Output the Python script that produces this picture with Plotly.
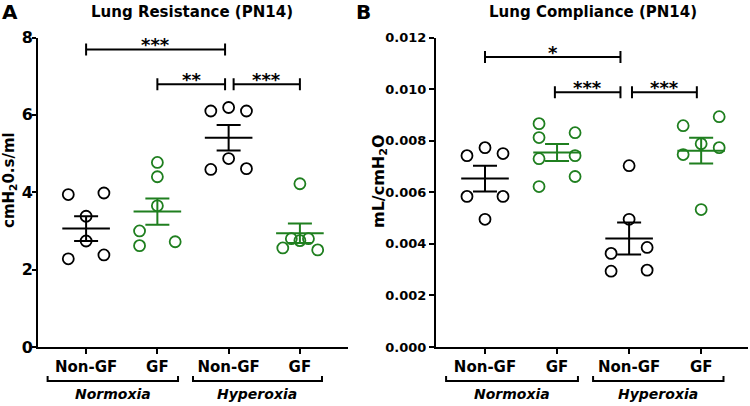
import plotly.graph_objects as go

# ---------------- data ----------------
categories = ["Non-GF", "GF", "Non-GF", "GF"]
groups = ["Normoxia", "Hyperoxia"]

# Panel A: Lung Resistance (cmH2O.s/ml)
res_nongf_norm = [3.94, 3.98, 3.38, 2.28, 2.74, 2.38]
res_gf_norm = [4.77, 4.40, 3.65, 3.00, 2.62, 2.72]
res_nongf_hyp = [6.10, 6.19, 6.10, 4.59, 4.87, 4.61]
res_gf_hyp = [4.22, 2.56, 2.80, 2.75, 2.80, 2.51]
res_mean = [3.06, 3.50, 5.41, 2.94]
res_sem = [0.32, 0.34, 0.33, 0.25]

# Panel B: Lung Compliance (mL/cmH2O)
comp_nongf_norm = [0.00742, 0.00773, 0.00750, 0.00584, 0.00584, 0.00495]
comp_gf_norm = [0.00866, 0.00812, 0.00831, 0.00730, 0.00742, 0.00661, 0.00622]
comp_nongf_hyp = [0.00703, 0.00495, 0.00363, 0.00386, 0.00294, 0.00298]
comp_gf_hyp = [0.00858, 0.00893, 0.00788, 0.00746, 0.00773, 0.00533]
comp_mean = [0.00653, 0.00754, 0.00421, 0.00761]
comp_sem = [0.00050, 0.00033, 0.00062, 0.00050]

# significance labels
res_sig = ["***", "**", "***"]
comp_sig = ["*", "***", "***"]
res_sig_y = [7.69, 6.79, 6.79]
comp_sig_y = [0.01124, 0.00988, 0.00988]

# ---------------- layout helpers (positions / styles) ----------------
jit_res = [
    [-0.25, 0.25, 0.0, -0.25, 0.0, 0.25],
    [0.0, 0.0, 0.0, -0.25, -0.25, 0.25],
    [-0.25, 0.0, 0.25, -0.25, 0.0, 0.25],
    [0.0, -0.24, -0.12, 0.0, 0.12, 0.25],
]
jit_comp = [
    [-0.25, 0.0, 0.25, -0.25, 0.25, 0.0],
    [-0.25, -0.25, 0.25, -0.25, 0.25, 0.25, -0.25],
    [0.0, 0.0, -0.25, 0.25, -0.25, 0.25],
    [-0.25, 0.25, 0.0, -0.25, 0.25, 0.0],
]
res_sig_x = [(0.0, 1.95), (1.0, 1.95), (2.07, 3.0)]
comp_sig_x = [(0.0, 1.88), (0.97, 1.88), (2.04, 2.94)]
group_x = [(-0.54, 1.29), (1.5, 3.31)]

BLACK = "#000000"
GREEN = "#1f7f1f"
colors = [BLACK, GREEN, BLACK, GREEN]
FONT = "DejaVu Sans"

W, H = 750, 406


def py(p):
    return 1 - p / H


fig = go.Figure()

panels = [
    ("x", "y", [res_nongf_norm, res_gf_norm, res_nongf_hyp, res_gf_hyp], jit_res, res_mean, res_sem),
    ("x2", "y2", [comp_nongf_norm, comp_gf_norm, comp_nongf_hyp, comp_gf_hyp], jit_comp, comp_mean, comp_sem),
]

for xa, ya, series, jits, means, sems in panels:
    for i, (vals, jit) in enumerate(zip(series, jits)):
        fig.add_trace(go.Scatter(
            x=[i + j for j in jit], y=vals, mode="markers", xaxis=xa, yaxis=ya,
            marker=dict(symbol="circle-open", size=11, color=colors[i],
                        line=dict(width=1.8, color=colors[i])),
            showlegend=False, hoverinfo="skip",
        ))
    for i in range(4):
        fig.add_trace(go.Scatter(
            x=[i], y=[means[i]], mode="markers", xaxis=xa, yaxis=ya,
            marker=dict(symbol="line-ew", size=34, color=colors[i],
                        line=dict(width=2, color=colors[i])),
            error_y=dict(type="data", array=[sems[i]], visible=True,
                         color=colors[i], thickness=2, width=12),
            showlegend=False, hoverinfo="skip",
        ))

shapes = []
annotations = []

# significance brackets
for xr, yr, sig, sx, sy in [("x", "y", res_sig, res_sig_x, res_sig_y),
                            ("x2", "y2", comp_sig, comp_sig_x, comp_sig_y)]:
    for lab, (x0, x1), yv in zip(sig, sx, sy):
        shapes.append(dict(type="line", xref=xr, yref=yr, x0=x0, x1=x1, y0=yv, y1=yv,
                           line=dict(color=BLACK, width=2)))
        for xe in (x0, x1):
            shapes.append(dict(type="line", xref=xr, yref=yr, ysizemode="pixel", yanchor=yv,
                               x0=xe, x1=xe, y0=-6, y1=6, line=dict(color=BLACK, width=2)))
        annotations.append(dict(xref=xr, yref=yr, x=(x0 + x1) / 2, y=yv, text=lab,
                                showarrow=False, yanchor="middle", xanchor="center", yshift=5,
                                font=dict(family=FONT, size=18, color=BLACK, weight="bold")))

# group brackets under x-axis
for xr in ("x", "x2"):
    for (x0, x1), g in zip(group_x, groups):
        shapes.append(dict(type="path", xref=xr, yref="paper",
                           path=f"M {x0},{py(376)} L {x0},{py(381)} L {x1},{py(381)} L {x1},{py(376)}",
                           line=dict(color=BLACK, width=2)))
        annotations.append(dict(xref=xr, yref="paper", x=(x0 + x1) / 2, y=py(394), text=f"<i>{g}</i>",
                                showarrow=False, yanchor="middle", xanchor="center",
                                font=dict(family=FONT, size=14, color=BLACK, weight="bold")))

# titles, panel letters, axis titles
annotations += [
    dict(xref="paper", yref="paper", x=192 / W, y=py(12), text="Lung Resistance (PN14)",
         showarrow=False, yanchor="middle", xanchor="center",
         font=dict(family=FONT, size=15, color=BLACK, weight="bold")),
    dict(xref="paper", yref="paper", x=593 / W, y=py(12), text="Lung Compliance (PN14)",
         showarrow=False, yanchor="middle", xanchor="center",
         font=dict(family=FONT, size=15, color=BLACK, weight="bold")),
    dict(xref="paper", yref="paper", x=10 / W, y=py(12), text="A",
         showarrow=False, yanchor="middle", xanchor="center",
         font=dict(family=FONT, size=20, color=BLACK, weight="bold")),
    dict(xref="paper", yref="paper", x=363 / W, y=py(12), text="B",
         showarrow=False, yanchor="middle", xanchor="center",
         font=dict(family=FONT, size=20, color=BLACK, weight="bold")),
    dict(xref="paper", yref="paper", x=9 / W, y=py(180), text="cmH<sub>2</sub>0.s/ml", textangle=-90,
         showarrow=False, yanchor="middle", xanchor="center",
         font=dict(family=FONT, size=15, color=BLACK, weight="bold")),
    dict(xref="paper", yref="paper", x=380 / W, y=py(181), text="mL/cmH<sub>2</sub>O", textangle=-90,
         showarrow=False, yanchor="middle", xanchor="center",
         font=dict(family=FONT, size=16, color=BLACK, weight="bold")),
]

common_x = dict(tickmode="array", tickvals=[0, 1, 2, 3], ticktext=categories,
                showline=True, linewidth=2, linecolor=BLACK, ticks="outside", ticklen=5,
                tickwidth=2, tickcolor=BLACK, showgrid=False, zeroline=False, automargin=False,
                tickfont=dict(family=FONT, size=15, color=BLACK, weight="bold"))
common_y = dict(showline=True, linewidth=2, linecolor=BLACK, ticks="outside",
                tickwidth=2, tickcolor=BLACK, showgrid=False, zeroline=False, automargin=False)

ydom = [py(347), py(37.5)]
fig.update_layout(
    width=W, height=H, margin=dict(l=0, r=0, t=0, b=0, pad=0), autosize=False,
    paper_bgcolor="white", plot_bgcolor="white",
    xaxis=dict(domain=[38 / W, 348 / W], range=[-0.675, 3.675], anchor="y", **common_x),
    xaxis2=dict(domain=[436 / W, 748 / W], range=[-0.68, 3.65], anchor="y2", **common_x),
    yaxis=dict(domain=ydom, range=[0, 8], tickvals=[0, 2, 4, 6, 8], anchor="x", ticklen=4,
               ticklabelstandoff=-4,
               tickfont=dict(family=FONT, size=16, color=BLACK, weight="bold"), **common_y),
    yaxis2=dict(domain=ydom, range=[0, 0.012], tickvals=[0, 0.002, 0.004, 0.006, 0.008, 0.010, 0.012],
                tickformat=".3f", anchor="x2", ticklen=5,
                tickfont=dict(family=FONT, size=13, color=BLACK, weight="bold"), **common_y),
    shapes=shapes, annotations=annotations,
)

fig.write_html("out.html", config={"displayModeBar": False},
               post_script="document.body.style.margin='0';document.body.style.padding='0';"
                           "document.body.style.overflow='hidden';")
